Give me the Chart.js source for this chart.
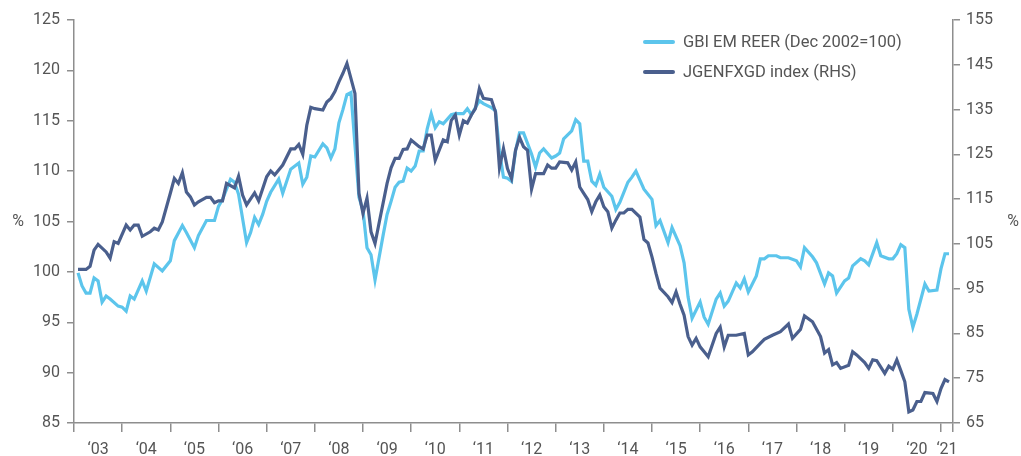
<!DOCTYPE html>
<html>
<head>
<meta charset="utf-8">
<script src="https://cdn.jsdelivr.net/npm/chart.js@4.4.1/dist/chart.umd.min.js"></script>
<style>
  html, body { margin: 0; padding: 0; background: #ffffff; }
  #wrap { position: relative; width: 1021px; height: 456px; }
</style>
</head>
<body>
<div id="wrap"><canvas id="c"></canvas></div>
<script>
// x values: months counted from the start of 2003 (0 = Jan 2003 start)
const yearLabels = ["\u201803","\u201804","\u201805","\u201806","\u201807","\u201808","\u201809","\u201810","\u201811","\u201812","\u201813","\u201814","\u201815","\u201816","\u201817","\u201818","\u201819","\u201820","\u201821"];
const seriesNames = ["GBI EM REER (Dec 2002=100)", "JGENFXGD index (RHS)"];

const reerMonths = [1,2,3,4,5,6,7,8,9,11,12,13,14,15,17,18,20,22,24,25,27,28,30,31,33,35,36,37,39,40,41,43,44,45,46,47,48,49,51,52,54,56,57,58,59,60,62,63,64,65,66,67,68,69,71,72,73,74,75,76,77,78,79,80,81,82,83,84,85,86,87,88,89,90,91,92,94,95,97,98,99,101,102,104,105,106,107,108,109,110,111,112,114,115,116,117,119,120,121,122,124,125,126,127,128,129,130,131,132,134,135,136,138,139,140,141,142,144,145,146,148,149,151,152,153,154,156,157,158,160,161,162,163,165,166,167,168,169,170,171,172,173,175,176,178,180,181,182,184,185,187,188,189,190,192,193,194,196,197,198,200,201,203,204,205,206,207,208,209,210,212,213,215,216,217,218];
const reerValues = [99.9,98.6,97.9,97.9,99.4,99.1,97.0,97.6,97.3,96.6,96.5,96.1,97.6,97.3,99.1,98.1,100.8,100.1,101.1,103.1,104.6,103.9,102.4,103.6,105.1,105.1,106.5,107.2,109.2,108.9,107.7,102.9,103.9,105.4,104.7,105.7,107.0,107.9,109.2,107.8,110.2,110.8,108.7,109.4,111.5,111.4,112.7,112.3,111.3,112.2,114.8,116.1,117.6,117.8,107.4,106.1,102.4,101.7,99.2,101.4,103.6,105.7,107.0,108.4,108.9,109.0,110.3,110.0,110.5,112.0,112.0,114.2,115.7,114.3,114.9,114.7,115.6,115.7,115.7,116.2,115.6,117.0,116.7,116.3,116.0,112.0,109.4,109.3,109.0,112.0,113.8,113.8,111.7,110.4,111.8,112.2,111.3,111.5,111.8,113.2,114.0,115.1,114.7,111.0,111.0,109.0,108.6,109.7,108.4,107.5,106.2,106.9,108.9,109.4,110.0,109.1,108.2,107.2,104.6,105.1,102.9,104.4,102.6,100.9,97.5,95.4,97.0,95.5,94.8,97.3,97.9,96.6,97.1,98.9,98.4,99.3,98.0,98.8,99.6,101.3,101.3,101.6,101.6,101.4,101.4,101.1,100.5,102.4,101.5,100.9,98.8,99.9,99.6,97.9,99.1,99.4,100.6,101.3,101.1,100.7,102.9,101.6,101.3,101.3,101.8,102.7,102.4,96.3,94.5,95.8,98.8,98.1,98.2,100.3,101.8,101.8];

const jgenMonths = [1,3,4,5,6,8,9,10,11,13,14,15,16,17,19,20,21,22,24,25,26,27,28,29,30,31,33,34,35,36,37,38,40,41,42,43,45,46,48,49,50,52,54,55,56,57,58,59,60,62,63,64,65,66,67,68,70,71,72,73,74,75,76,78,79,80,81,82,83,84,86,87,88,89,90,92,93,94,95,96,97,98,99,100,101,102,104,105,106,107,108,109,110,111,112,113,114,115,117,118,119,120,121,122,123,124,125,126,127,128,129,130,131,132,133,134,135,136,137,138,139,141,142,143,144,145,146,148,149,150,151,152,153,154,155,156,157,158,160,161,162,163,164,165,167,168,169,171,172,174,176,178,179,181,182,184,186,187,188,189,190,191,193,194,195,197,198,199,200,202,203,204,205,206,207,208,209,210,211,212,214,215,216,217,218];
const jgenValues = [99.3,99.3,100.0,103.6,104.9,103.2,101.8,105.5,105.1,109.2,108.1,109.2,109.2,106.7,107.7,108.5,108.1,109.9,116.3,119.6,118.5,120.9,116.6,115.5,113.7,114.4,115.4,115.4,114.2,114.6,114.6,118.5,117.5,120.1,115.9,113.7,116.4,114.6,120.0,121.3,120.4,122.6,126.2,126.2,127.2,125.0,131.5,135.5,135.2,134.9,136.7,137.5,139.0,141.2,143.1,145.3,138.6,116.3,111.8,115.2,107.7,105.1,109.6,118.5,122.0,124.1,124.1,126.1,126.2,128.2,126.7,126.2,129.3,129.3,123.7,128.2,127.8,132.6,133.8,129.3,132.5,132.0,133.8,135.2,139.7,137.5,137.2,134.5,122.0,126.3,121.8,119.6,125.9,128.8,126.7,125.9,117.2,120.7,120.7,122.6,121.9,121.9,123.3,123.2,123.1,121.5,123.3,117.7,116.3,114.9,112.2,114.4,115.9,113.3,112.2,108.5,110.3,111.9,111.9,112.7,112.7,111.0,106.0,105.2,102.1,98.4,95.1,93.2,91.9,94.3,91.5,89.1,84.3,82.4,83.9,82.0,80.9,79.8,85.0,86.4,82.0,84.6,84.6,84.6,85.0,80.2,80.9,82.8,83.7,84.6,85.4,87.1,83.9,85.9,88.9,87.6,84.3,80.6,81.4,78.0,78.5,77.2,77.9,80.9,80.2,78.5,77.2,79.1,78.9,76.1,77.7,77.0,79.1,76.7,74.2,67.5,67.9,69.8,69.8,71.8,71.6,69.8,72.7,74.7,74.2];

const xMin = 0, xMax = 219;
const yearTickMonths = [0,12,24,36,48,60,72,84,96,108,120,132,144,156,168,180,192,204,216,219];
const yearLabelMonths = [6,18,30,42,54,66,78,90,102,114,126,138,150,162,174,186,198,210,217.5];

const BLUE = '#5cc5ec';
const NAVY = '#4a5f8d';
const TEXT = '#555555';
const AXIS = '#8e8e8e';
const FONT = 'Roboto, "Liberation Sans", sans-serif';

function pts(xs, ys) { return xs.map((x, i) => ({ x: x, y: ys[i] })); }

const overlay = {
  id: 'overlay',
  afterDraw(chart) {
    const ctx = chart.ctx;
    const ca = chart.chartArea;
    ctx.save();
    ctx.font = '16px ' + FONT;
    ctx.fillStyle = TEXT;
    ctx.textBaseline = 'middle';
    // axis unit labels
    const midY = (ca.top + ca.bottom) / 2;
    ctx.textAlign = 'center';
    ctx.fillText('%', 18, midY);
    ctx.fillText('%', 1013, midY);
    // legend
    ctx.font = '16.5px ' + FONT;
    const items = [
      { label: seriesNames[0], color: BLUE, y: 42 },
      { label: seriesNames[1], color: NAVY, y: 72 }
    ];
    ctx.textAlign = 'left';
    items.forEach(it => {
      ctx.strokeStyle = it.color;
      ctx.lineWidth = 4;
      ctx.lineCap = 'round';
      ctx.beginPath();
      ctx.moveTo(645, it.y);
      ctx.lineTo(673, it.y);
      ctx.stroke();
      ctx.fillStyle = TEXT;
      ctx.fillText(it.label, 683, it.y + 0.5);
    });
    ctx.restore();
  }
};

new Chart(document.getElementById('c'), {
  type: 'line',
  data: {
    datasets: [
      {
        label: seriesNames[0],
        data: pts(reerMonths, reerValues),
        borderColor: BLUE,
        backgroundColor: BLUE,
        borderWidth: 3.2,
        pointRadius: 0,
        tension: 0,
        yAxisID: 'y',
        xAxisID: 'x',
        order: 1
      },
      {
        label: seriesNames[1],
        data: pts(jgenMonths, jgenValues),
        borderColor: NAVY,
        backgroundColor: NAVY,
        borderWidth: 3.2,
        pointRadius: 0,
        tension: 0,
        yAxisID: 'y2',
        xAxisID: 'x',
        order: 0
      }
    ]
  },
  options: {
    responsive: true,
    maintainAspectRatio: false,
    animation: false,
    events: [],
    layout: { padding: { top: 20, bottom: 0, left: 0, right: 0 } },
    plugins: {
      legend: { display: false },
      tooltip: { enabled: false },
      title: { display: false }
    },
    scales: {
      x: {
        type: 'linear',
        position: 'bottom',
        weight: 0,
        min: xMin,
        max: xMax,
        afterBuildTicks: (s) => { s.ticks = yearTickMonths.map(v => ({ value: v })); },
        afterFit: (s) => { s.height = 9; },
        ticks: { display: false },
        grid: { display: true, drawOnChartArea: false, drawTicks: true, tickLength: 9, color: AXIS, lineWidth: 1.5 },
        border: { display: true, color: AXIS, width: 1.5 }
      },
      xl: {
        type: 'linear',
        axis: 'x',
        position: 'bottom',
        weight: 1,
        min: xMin,
        max: xMax,
        afterBuildTicks: (s) => { s.ticks = yearLabelMonths.map(v => ({ value: v })); },
        afterFit: (s) => { s.height = 24; },
        ticks: {
          autoSkip: false,
          maxRotation: 0,
          minRotation: 0,
          padding: 8,
          color: TEXT,
          font: { family: FONT, size: 16 },
          callback: (v, i) => yearLabels[i]
        },
        grid: { display: false, drawTicks: false },
        border: { display: false }
      },
      y: {
        type: 'linear',
        position: 'left',
        min: 85,
        max: 125,
        afterFit: (s) => { s.width = 74; },
        ticks: { stepSize: 5, padding: 7, color: TEXT, font: { family: FONT, size: 16 } },
        grid: { display: true, drawOnChartArea: false, drawTicks: true, tickLength: 7, color: AXIS, lineWidth: 1.5 },
        border: { display: true, color: AXIS, width: 1.5 }
      },
      y2: {
        type: 'linear',
        position: 'right',
        min: 65,
        max: 155,
        afterFit: (s) => { s.width = 68; },
        ticks: { stepSize: 10, padding: 6, color: TEXT, font: { family: FONT, size: 16 } },
        grid: { display: true, drawOnChartArea: false, drawTicks: true, tickLength: 7, color: AXIS, lineWidth: 1.5 },
        border: { display: true, color: AXIS, width: 1.5 }
      }
    }
  },
  plugins: [overlay]
});
</script>
</body>
</html>
